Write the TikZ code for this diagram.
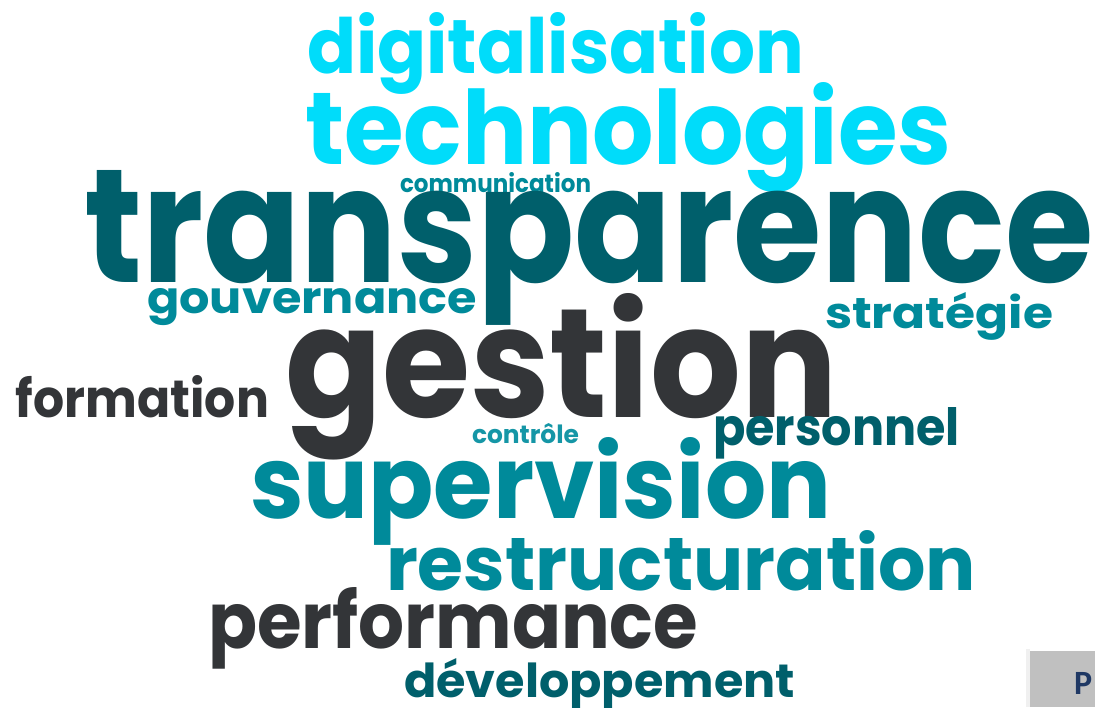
\documentclass[tikz,border=0pt]{standalone}
\usepackage{fontspec}
\newfontfamily\wcfont{Poppins}[UprightFont=* Bold]
\newfontfamily\pfont{Carlito}[UprightFont=* Bold]
\definecolor{wcyan}{HTML}{00DCFA}
\definecolor{wdark}{HTML}{005F6B}
\definecolor{wteal}{HTML}{008A9A}
\definecolor{wgray}{HTML}{333538}
\definecolor{wlteal}{HTML}{1596A6}
\definecolor{boxgray}{HTML}{C0C0C0}
\definecolor{pblue}{HTML}{1F3864}
\tikzset{
  word/.style={inner sep=0pt, outer sep=0pt, anchor=base west, font=\wcfont},
  tagbox/.style={fill=boxgray, draw=none},
}
\newcommand{\cw}[3]{\resizebox{#1pt}{#2pt}{#3}}
\begin{document}
\begin{tikzpicture}[x=1pt,y=-1pt]
\useasboundingbox (0,0) rectangle (1095,707);
\node[word, text=wcyan] (digit) at (307,73) {\cw{497}{61}{digitalisation}};
\node[word, text=wcyan] (techno) at (305,164) {\cw{646}{82}{technologies}};
\node[word, text=wteal] (commu) at (400,192) {\cw{191}{20}{communication}};
\node[word, text=wdark] (transp) at (84,282) {\cw{1009}{112}{transparence}};
\node[word, text=wteal] (gouv) at (147,313) {\cw{330}{25}{gouvernance}};
\node[word, text=wteal] (strat) at (825,328) {\cw{228}{36}{stratégie}};
\node[word, text=wgray] (gest) at (285,417) {\cw{552}{124}{gestion}};
\node[word, text=wgray] (form) at (16,417) {\cw{253}{42}{formation}};
\node[word, text=wlteal] (contr) at (472,443) {\cw{107}{20}{contrôle}};
\node[word, text=wdark] (perso) at (713,445) {\cw{247}{38}{personnel}};
\node[word, text=wteal] (superv) at (250,518) {\cw{581}{81}{supervision}};
\node[word, text=wteal] (restr) at (386,590) {\cw{590}{60}{restructuration}};
\node[word, text=wgray] (perf) at (208,648) {\cw{490}{61}{performance}};
\node[word, text=wdark] (devel) at (404,697) {\cw{391}{39}{développement}};
\fill[gray!12] (1026,649) rectangle (1030,707);
\fill[tagbox] (1030,651) rectangle (1095,707);
\node[inner sep=0pt, anchor=base west, text=pblue, font=\pfont\fontsize{34}{34}\selectfont] (ptag) at (1074,694) {P};
\end{tikzpicture}
\end{document}
